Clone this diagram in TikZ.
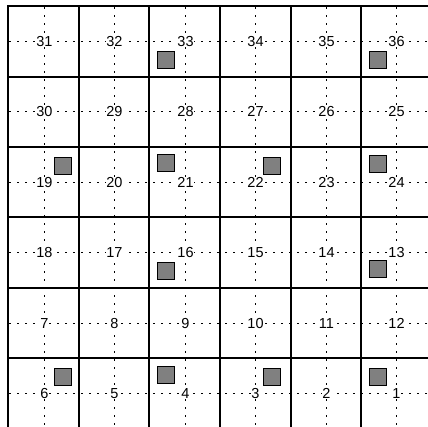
\documentclass[tikz,border=0pt]{standalone}
\usepackage{fontspec}
\setmainfont{Liberation Sans}
\definecolor{obstgray}{RGB}{128,128,128}
\begin{document}
\begin{tikzpicture}[x=1pt,y=-1pt,
  gridline/.style={line width=1.8pt, line cap=rect},
  guide/.style={line width=1.7pt, dash pattern=on 1.7pt off 6.3pt},
  lbl/.style={fill=white, inner sep=0.6pt, font=\fontsize{14.5}{14.5}\selectfont},
  obst/.style={draw, fill=obstgray, line width=1pt, minimum size=17pt, inner sep=0pt}]
\useasboundingbox (0,0) rectangle (428,426);
\clip (0,0) rectangle (428,426);
% dotted guide lines through cell centres
\foreach \gx in {44.5,114.5,185.5,255.5,326.5,396.5}{
  \draw[guide] (\gx,7) -- (\gx,430);
}
\foreach \gy in {41.5,111.5,182.5,252.5,323.5,393.5}{
  \draw[guide] (9,\gy) -- (432,\gy);
}
% grid
\foreach \gx in {8,79,149,220,291,361,432}{
  \draw[gridline] (\gx,6) -- (\gx,429);
}
\foreach \gy in {6,77,147,217,288,358,429}{
  \draw[gridline] (8,\gy) -- (432,\gy);
}
% labels
\def\xs{{44.5,114.5,185.5,255.5,326.5,396.5}}
\def\ys{{41.5,111.5,182.5,252.5,323.5,393.5}}
\foreach \r in {0,...,5}{
  \foreach \c in {0,...,5}{
    \pgfmathtruncatemacro{\n}{mod(\r,2)==0 ? 6*\r+6-\c : 6*\r+\c+1}
    \pgfmathsetmacro{\px}{\xs[\c]}
    \pgfmathsetmacro{\py}{\ys[5-\r]}
    \node[lbl] (l\n) at (\px,\py) {\n};
  }
}
% obstacles
\node[obst] (s33) at (166,60) {};
\node[obst] (s36) at (378,60) {};
\node[obst] (s19) at (63,166) {};
\node[obst] (s21) at (166,163) {};
\node[obst] (s22) at (272,166) {};
\node[obst] (s24) at (378,164) {};
\node[obst] (s16) at (166,271) {};
\node[obst] (s13) at (378,269) {};
\node[obst] (s6) at (63,377) {};
\node[obst] (s4) at (166,375) {};
\node[obst] (s3) at (272,377) {};
\node[obst] (s1) at (378,377) {};
\end{tikzpicture}
\end{document}
